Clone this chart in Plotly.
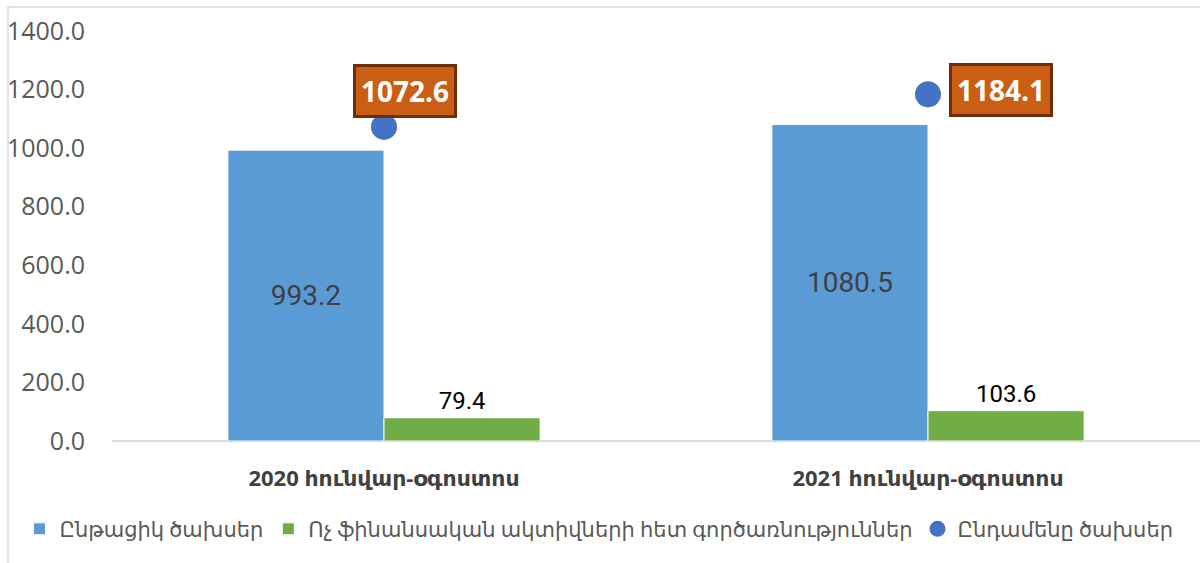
import plotly.graph_objects as go

categories = ["2020 հունվար-օգոստոս", "2021 հունվար-օգոստոս"]
current_spending = [993.2, 1080.5]
nonfinancial_assets = [79.4, 103.6]
total_spending = [1072.6, 1184.1]

series_names = [
    "Ընթացիկ ծախսեր",
    "Ոչ ֆինանսական ակտիվների հետ գործառնություններ",
    "Ընդամենը ծախսեր",
]
y_ticks = [0, 200, 400, 600, 800, 1000, 1200, 1400]

BLUE = "#5B9BD5"
GREEN = "#70AD47"
DOT = "#4472C4"
ORANGE = "#C95E14"
FONT = "Roboto, DejaVu Sans, sans-serif"
WIDE = "Open Sans, DejaVu Sans, sans-serif"

fig = go.Figure()

fig.add_trace(go.Bar(
    x=categories,
    y=current_spending,
    name=series_names[0],
    marker=dict(color=BLUE, line=dict(color="white", width=1)),
    text=[f"{v:.1f}" for v in current_spending],
    textposition="inside",
    insidetextanchor="middle",
    textfont=dict(size=28, color="#404040", family=FONT),
))

fig.add_trace(go.Bar(
    x=categories,
    y=nonfinancial_assets,
    name=series_names[1],
    marker=dict(color=GREEN, line=dict(color="white", width=1)),
    text=[f"{v:.1f}" for v in nonfinancial_assets],
    textposition="outside",
    textfont=dict(size=24, color="#000000", family=FONT),
    cliponaxis=False,
))

fig.add_trace(go.Scatter(
    x=categories,
    y=total_spending,
    name=series_names[2],
    mode="markers",
    marker=dict(color=DOT, size=26),
))

# orange value boxes for the totals
offsets = [(21, 36), (73, 4)]
for cat, val, (dx, dy) in zip(categories, total_spending, offsets):
    fig.add_annotation(
        x=cat,
        y=val,
        text=f"<b>{val:.1f}</b>",
        showarrow=False,
        xshift=dx,
        yshift=dy,
        font=dict(size=28, color="white", family=WIDE),
        bgcolor=ORANGE,
        bordercolor="#6E2E08",
        borderwidth=3,
        borderpad=5,
    )

# light chart-area frame (left and top edges visible)
fig.add_shape(
    type="rect",
    xref="paper",
    yref="paper",
    x0=-0.0956,
    x1=1.02,
    y0=-0.35,
    y1=1.0585,
    line=dict(color="#D9D9D9", width=1.5),
    layer="below",
)

fig.update_layout(
    width=1200,
    height=563,
    barmode="group",
    bargap=0.426,
    bargroupgap=0,
    plot_bgcolor="white",
    paper_bgcolor="white",
    margin=dict(l=112, r=0, t=31, b=122),
    font=dict(family=FONT, color="#595959"),
    legend=dict(
        orientation="h",
        x=-0.085,
        xanchor="left",
        y=-0.215,
        yanchor="middle",
        font=dict(size=21, color="#595959", family=FONT),
        itemwidth=30,
    ),
)

fig.update_xaxes(
    showgrid=False,
    showline=False,
    tickfont=dict(size=22, color="#404040", family=WIDE, weight="bold"),
    ticks="",
    ticklabelstandoff=22,
)
fig.update_yaxes(
    range=[0, 1400],
    tickvals=y_ticks,
    tickformat=".1f",
    showgrid=False,
    zeroline=True,
    zerolinecolor="#D9D9D9",
    zerolinewidth=2,
    tickfont=dict(size=25, color="#595959", family=WIDE),
    ticklabelstandoff=26,
)

fig.write_html(
    "out.html",
    config={"displayModeBar": False},
    post_script="document.body.style.margin='0';",
)
